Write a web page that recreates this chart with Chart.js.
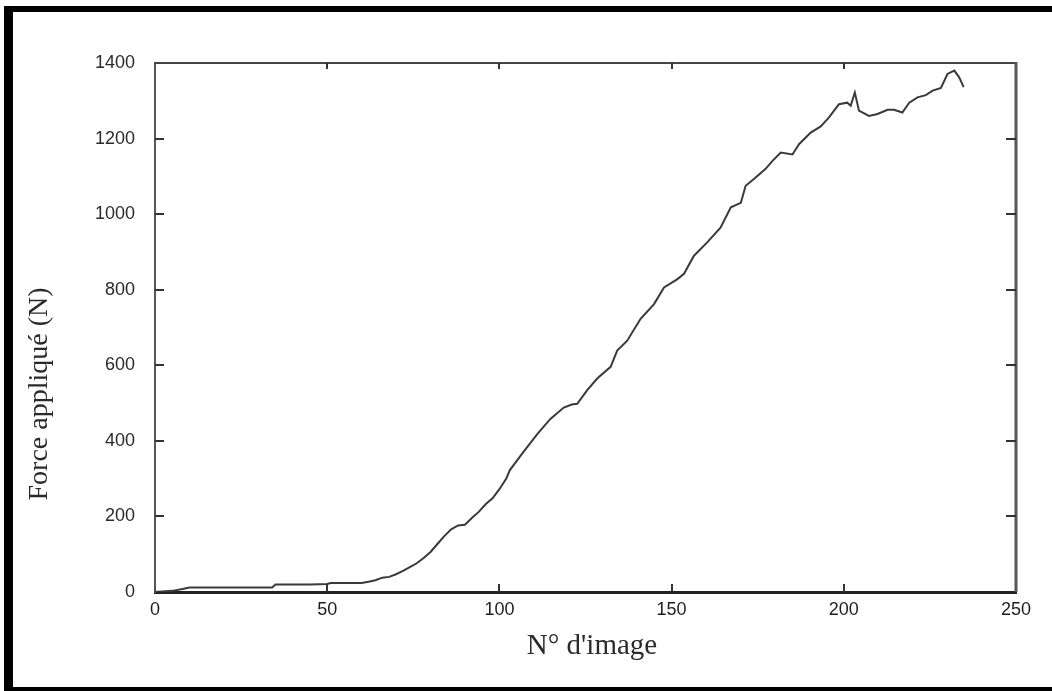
<!DOCTYPE html>
<html lang="fr">
<head>
<meta charset="utf-8">
<title>Force appliqué (N) vs N° d'image</title>
<script src="https://cdn.jsdelivr.net/npm/chart.js@4.4.1/dist/chart.umd.min.js"></script>
<style>
  html, body { margin: 0; padding: 0; background: #fff; }
  canvas { display: block; }
</style>
</head>
<body>
<canvas id="forceChart" width="1052" height="691"></canvas>
<script>
// values
const imageNo = [
  0, 2, 5, 8, 10, 15, 20, 25, 30, 34,
  35, 40, 45, 50, 51, 55, 60, 62, 64, 66,
  68, 70, 72, 74, 76, 78, 80, 82, 84, 86,
  88, 90, 92, 94, 96, 98, 100, 102, 103, 106.6,
  111, 114.8, 118.7, 121, 122.6, 125.5, 128.4, 132.3, 134.2, 137.1,
  141, 144.9, 147.8, 151.7, 153.6, 156.5, 160.4, 164.2, 167.2, 170.1,
  171.5, 173.9, 177.3, 179.3, 181.7, 185.1, 187, 190.4, 193.3, 195.7,
  198.6, 201, 202, 203.2, 204.4, 207.3, 209.8, 212.7, 214.6, 217,
  219, 221.4, 223.8, 225.8, 228.2, 230.1, 232.1, 233.5, 234.8
];
const force = [
  0, 1, 3, 8, 12, 12, 12, 12, 12, 12,
  20, 20, 20, 21, 24, 24, 24, 27, 31, 38,
  40, 47, 56, 66, 76, 90, 106, 127, 148, 166,
  176, 178, 196, 212, 232, 248, 272, 300, 322, 366,
  418, 458, 488, 496, 498, 534, 565, 596, 639, 665,
  723, 762, 806, 828, 842, 890, 926, 964, 1018, 1030,
  1075, 1093, 1120, 1141, 1163, 1158, 1185, 1216, 1232, 1256,
  1291, 1295, 1287, 1322, 1274, 1260, 1265, 1276, 1276, 1269,
  1295, 1309, 1315, 1327, 1334, 1371, 1380, 1362, 1336
];
const xTicks = [0, 50, 100, 150, 200, 250];
const yTicks = [0, 200, 400, 600, 800, 1000, 1200, 1400];

const xTitle = "N\u00b0 d'image";
const yTitle = 'Force appliqué (N)';

const serif = '"Liberation Serif", "Times New Roman", "DejaVu Serif", serif';
const sans = '"Liberation Sans", Arial, Helvetica, sans-serif';

// frame, inward ticks, axis titles and the black scan border
const framePlugin = {
  id: 'frame',
  beforeDraw(chart) {
    const ctx = chart.ctx;
    ctx.save();
    ctx.fillStyle = '#fff';
    ctx.fillRect(0, 0, chart.width, chart.height);
    ctx.restore();
  },
  afterDraw(chart) {
    const ctx = chart.ctx;
    const { left, right, top, bottom } = chart.chartArea;
    const xs = chart.scales.x;
    const ys = chart.scales.y;
    ctx.save();

    // top and right frame lines
    ctx.strokeStyle = '#444';
    ctx.lineWidth = 2;
    ctx.beginPath();
    ctx.moveTo(left, top);
    ctx.lineTo(right + 1, top);
    ctx.stroke();
    ctx.strokeStyle = '#555';
    ctx.lineWidth = 3;
    ctx.beginPath();
    ctx.moveTo(right, top - 1);
    ctx.lineTo(right, bottom);
    ctx.stroke();

    // inward ticks
    ctx.strokeStyle = '#333';
    ctx.lineWidth = 2;
    yTicks.slice(1, -1).forEach(v => {
      const y = Math.round(ys.getPixelForValue(v));
      ctx.beginPath();
      ctx.moveTo(left, y);
      ctx.lineTo(left + 9, y);
      ctx.moveTo(right, y);
      ctx.lineTo(right - 10, y);
      ctx.stroke();
    });
    xTicks.slice(1, -1).forEach(v => {
      const x = Math.round(xs.getPixelForValue(v));
      ctx.beginPath();
      ctx.moveTo(x, bottom);
      ctx.lineTo(x, bottom - 8);
      ctx.moveTo(x, top);
      ctx.lineTo(x, top + 6);
      ctx.stroke();
    });

    // axis titles
    ctx.fillStyle = '#2a2a2a';
    ctx.font = '29px ' + serif;
    ctx.textAlign = 'center';
    ctx.textBaseline = 'alphabetic';
    ctx.fillText(xTitle, 592, 654);

    ctx.translate(40, 394);
    ctx.rotate(-Math.PI / 2);
    ctx.font = '28px ' + serif;
    ctx.textBaseline = 'middle';
    ctx.fillText(yTitle, 0, 0);
    ctx.setTransform(1, 0, 0, 1, 0, 0);

    // black border of the scan
    ctx.fillStyle = '#000';
    ctx.fillRect(4, 6, chart.width - 4, 6);
    ctx.fillRect(4, 6, 9, chart.height - 6);
    ctx.fillRect(4, 687, chart.width - 4, 4);
    ctx.restore();
  }
};

new Chart(document.getElementById('forceChart'), {
  type: 'line',
  data: {
    datasets: [{
      data: imageNo.map((x, i) => ({ x: x, y: force[i] })),
      borderColor: '#3a3a3a',
      borderWidth: 2,
      pointRadius: 0,
      tension: 0,
      fill: false
    }]
  },
  options: {
    responsive: false,
    animation: false,
    layout: { padding: { top: 63, right: 36, left: 0, bottom: 0 } },
    plugins: {
      legend: { display: false },
      tooltip: { enabled: false }
    },
    scales: {
      x: {
        type: 'linear',
        min: 0,
        max: 250,
        afterFit: (scale) => { scale.height = 99; },
        afterBuildTicks: (scale) => { scale.ticks = xTicks.map(v => ({ value: v })); },
        grid: { display: false, drawTicks: false },
        border: { display: true, color: '#222', width: 3 },
        ticks: {
          padding: 7,
          color: '#1e1e1e',
          font: { family: sans, size: 18 },
          maxRotation: 0,
          callback: (v) => String(v)
        }
      },
      y: {
        min: 0,
        max: 1400,
        afterFit: (scale) => { scale.width = 155; },
        afterBuildTicks: (scale) => { scale.ticks = yTicks.map(v => ({ value: v })); },
        grid: { display: false, drawTicks: false },
        border: { display: true, color: '#555', width: 2 },
        ticks: {
          padding: 20,
          color: '#2a2a2a',
          font: { family: sans, size: 18 },
          callback: (v) => String(v)
        }
      }
    }
  },
  plugins: [framePlugin]
});
</script>
</body>
</html>
